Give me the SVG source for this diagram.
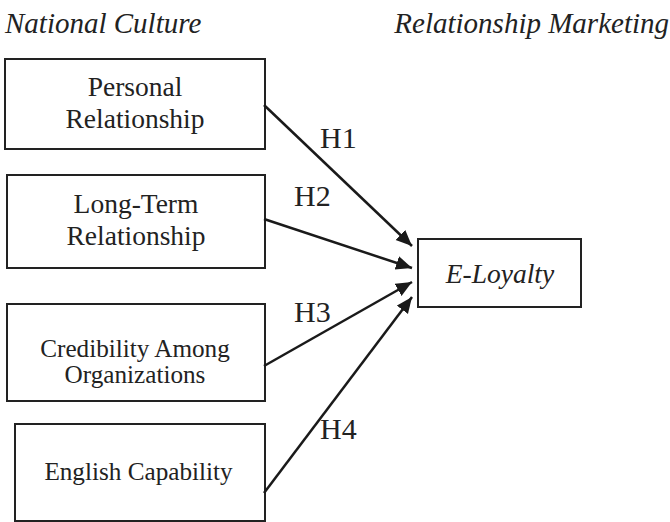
<svg xmlns="http://www.w3.org/2000/svg" width="670" height="522" viewBox="0 0 670 522">
<style>
  text { font-family: "Liberation Serif", "DejaVu Serif", serif; fill: #222; }
  .box { fill: #fff; stroke: #222; stroke-width: 2; }
  .lbl { font-size: 27.5px; text-anchor: middle; }
  .sm { font-size: 25.2px; text-anchor: middle; }
  .title { font-size: 29px; font-style: italic; }
  .h { font-size: 30px; }
  .conn { stroke: #1a1a1a; stroke-width: 2.5; fill: none; marker-end: url(#arr); }
</style>
<defs>
  <marker id="arr" markerUnits="userSpaceOnUse" markerWidth="18" markerHeight="16" refX="16" refY="7" orient="auto">
    <path d="M0,0 L16,7 L0,14 z" fill="#1a1a1a"/>
  </marker>
</defs>
<rect width="670" height="522" fill="#fff"/>
<text class="title" x="5" y="33">National Culture</text>
<text class="title" x="669" y="33" text-anchor="end">Relationship Marketing</text>
<g id="personal">
  <rect class="box" x="5" y="59" width="260" height="90"/>
  <text class="lbl" x="135" y="96">Personal</text>
  <text class="lbl" x="135" y="128">Relationship</text>
</g>
<g id="longterm">
  <rect class="box" x="7" y="175" width="258" height="93"/>
  <text class="lbl" x="136" y="213">Long-Term</text>
  <text class="lbl" x="136" y="245">Relationship</text>
</g>
<g id="credibility">
  <rect class="box" x="7" y="304" width="258" height="97"/>
  <text class="sm" x="135" y="357">Credibility Among</text>
  <text class="sm" x="135" y="383">Organizations</text>
</g>
<g id="english">
  <rect class="box" x="15" y="424" width="250" height="97"/>
  <text class="sm" x="138.5" y="480">English Capability</text>
</g>
<g id="eloyalty">
  <rect class="box" x="418" y="239" width="163" height="68"/>
  <text class="lbl" x="500" y="283" font-style="italic" font-size="26">E-Loyalty</text>
</g>
<g id="connectors">
  <line class="conn" x1="264" y1="105" x2="412" y2="246"/>
  <line class="conn" x1="264" y1="219" x2="412" y2="268"/>
  <line class="conn" x1="264" y1="366" x2="412" y2="282"/>
  <line class="conn" x1="264" y1="493" x2="412" y2="297"/>
  <text class="h" x="320" y="148">H1</text>
  <text class="h" x="294" y="206">H2</text>
  <text class="h" x="294" y="322">H3</text>
  <text class="h" x="320" y="439">H4</text>
</g>
</svg>
